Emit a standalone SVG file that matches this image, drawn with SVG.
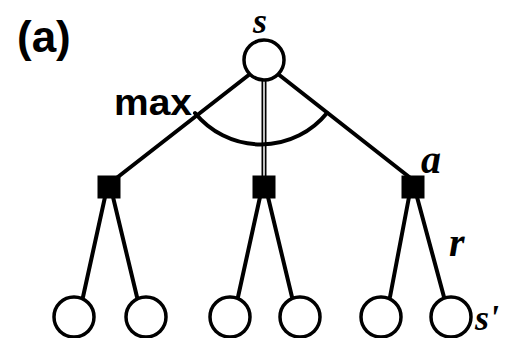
<svg xmlns="http://www.w3.org/2000/svg" width="514" height="338" viewBox="0 0 514 338">
<style>
.st{fill:#fff;stroke:#000;stroke-width:3.5}
.ac{fill:#000;stroke:#000;stroke-width:1}
.ln{stroke:#000;stroke-width:4;fill:none;stroke-linecap:round}
.lbl{font-family:"Liberation Serif",serif;font-style:italic;font-weight:bold;fill:#000}
.bold{font-family:"Liberation Sans",Arial,sans-serif;font-weight:bold;fill:#000}
</style>
<rect width="514" height="338" fill="#fff"/>
<text class="bold" x="17" y="52" font-size="44">(a)</text>
<text class="bold" x="114" y="115" font-size="37" textLength="78" lengthAdjust="spacingAndGlyphs">max</text>
<g id="connectors">
<line class="ln" x1="250" y1="74" x2="114" y2="180"/>
<line class="ln" x1="278" y1="74" x2="413" y2="180"/>
<line x1="264" y1="80" x2="264" y2="178" stroke="#000" stroke-width="5"/>
<line x1="264" y1="80" x2="264" y2="178" stroke="#fff" stroke-width="1.5"/>
<path class="ln" d="M195,113 A85,85 0 0 0 327,113" stroke-width="3.5"/>
<line class="ln" x1="105" y1="197" x2="83" y2="297"/>
<line class="ln" x1="113" y1="197" x2="137" y2="297"/>
<line class="ln" x1="260" y1="197" x2="238" y2="297"/>
<line class="ln" x1="268" y1="197" x2="292" y2="297"/>
<line class="ln" x1="409" y1="197" x2="390" y2="297"/>
<line class="ln" x1="417" y1="197" x2="444" y2="297"/>
</g>
<g id="root"><circle class="st" cx="264" cy="60" r="20"/><text class="lbl" x="253" y="33" font-size="36">s</text></g>
<g id="act1"><rect class="ac" x="98" y="176" width="22" height="22"/></g>
<g id="act2"><rect class="ac" x="253" y="176" width="22" height="22"/></g>
<g id="act3"><rect class="ac" x="402" y="176" width="22" height="22"/><text class="lbl" x="421" y="173" font-size="40">a</text></g>
<g id="leaf1"><circle class="st" cx="74" cy="317" r="20"/></g>
<g id="leaf2"><circle class="st" cx="146" cy="317" r="20"/></g>
<g id="leaf3"><circle class="st" cx="230" cy="317" r="20"/></g>
<g id="leaf4"><circle class="st" cx="300" cy="317" r="20"/></g>
<g id="leaf5"><circle class="st" cx="381" cy="317" r="20"/></g>
<g id="leaf6"><circle class="st" cx="451" cy="317" r="20"/><text class="lbl" x="475" y="330" font-size="36">s'</text></g>
<text class="lbl" x="449" y="256" font-size="40">r</text>
</svg>
